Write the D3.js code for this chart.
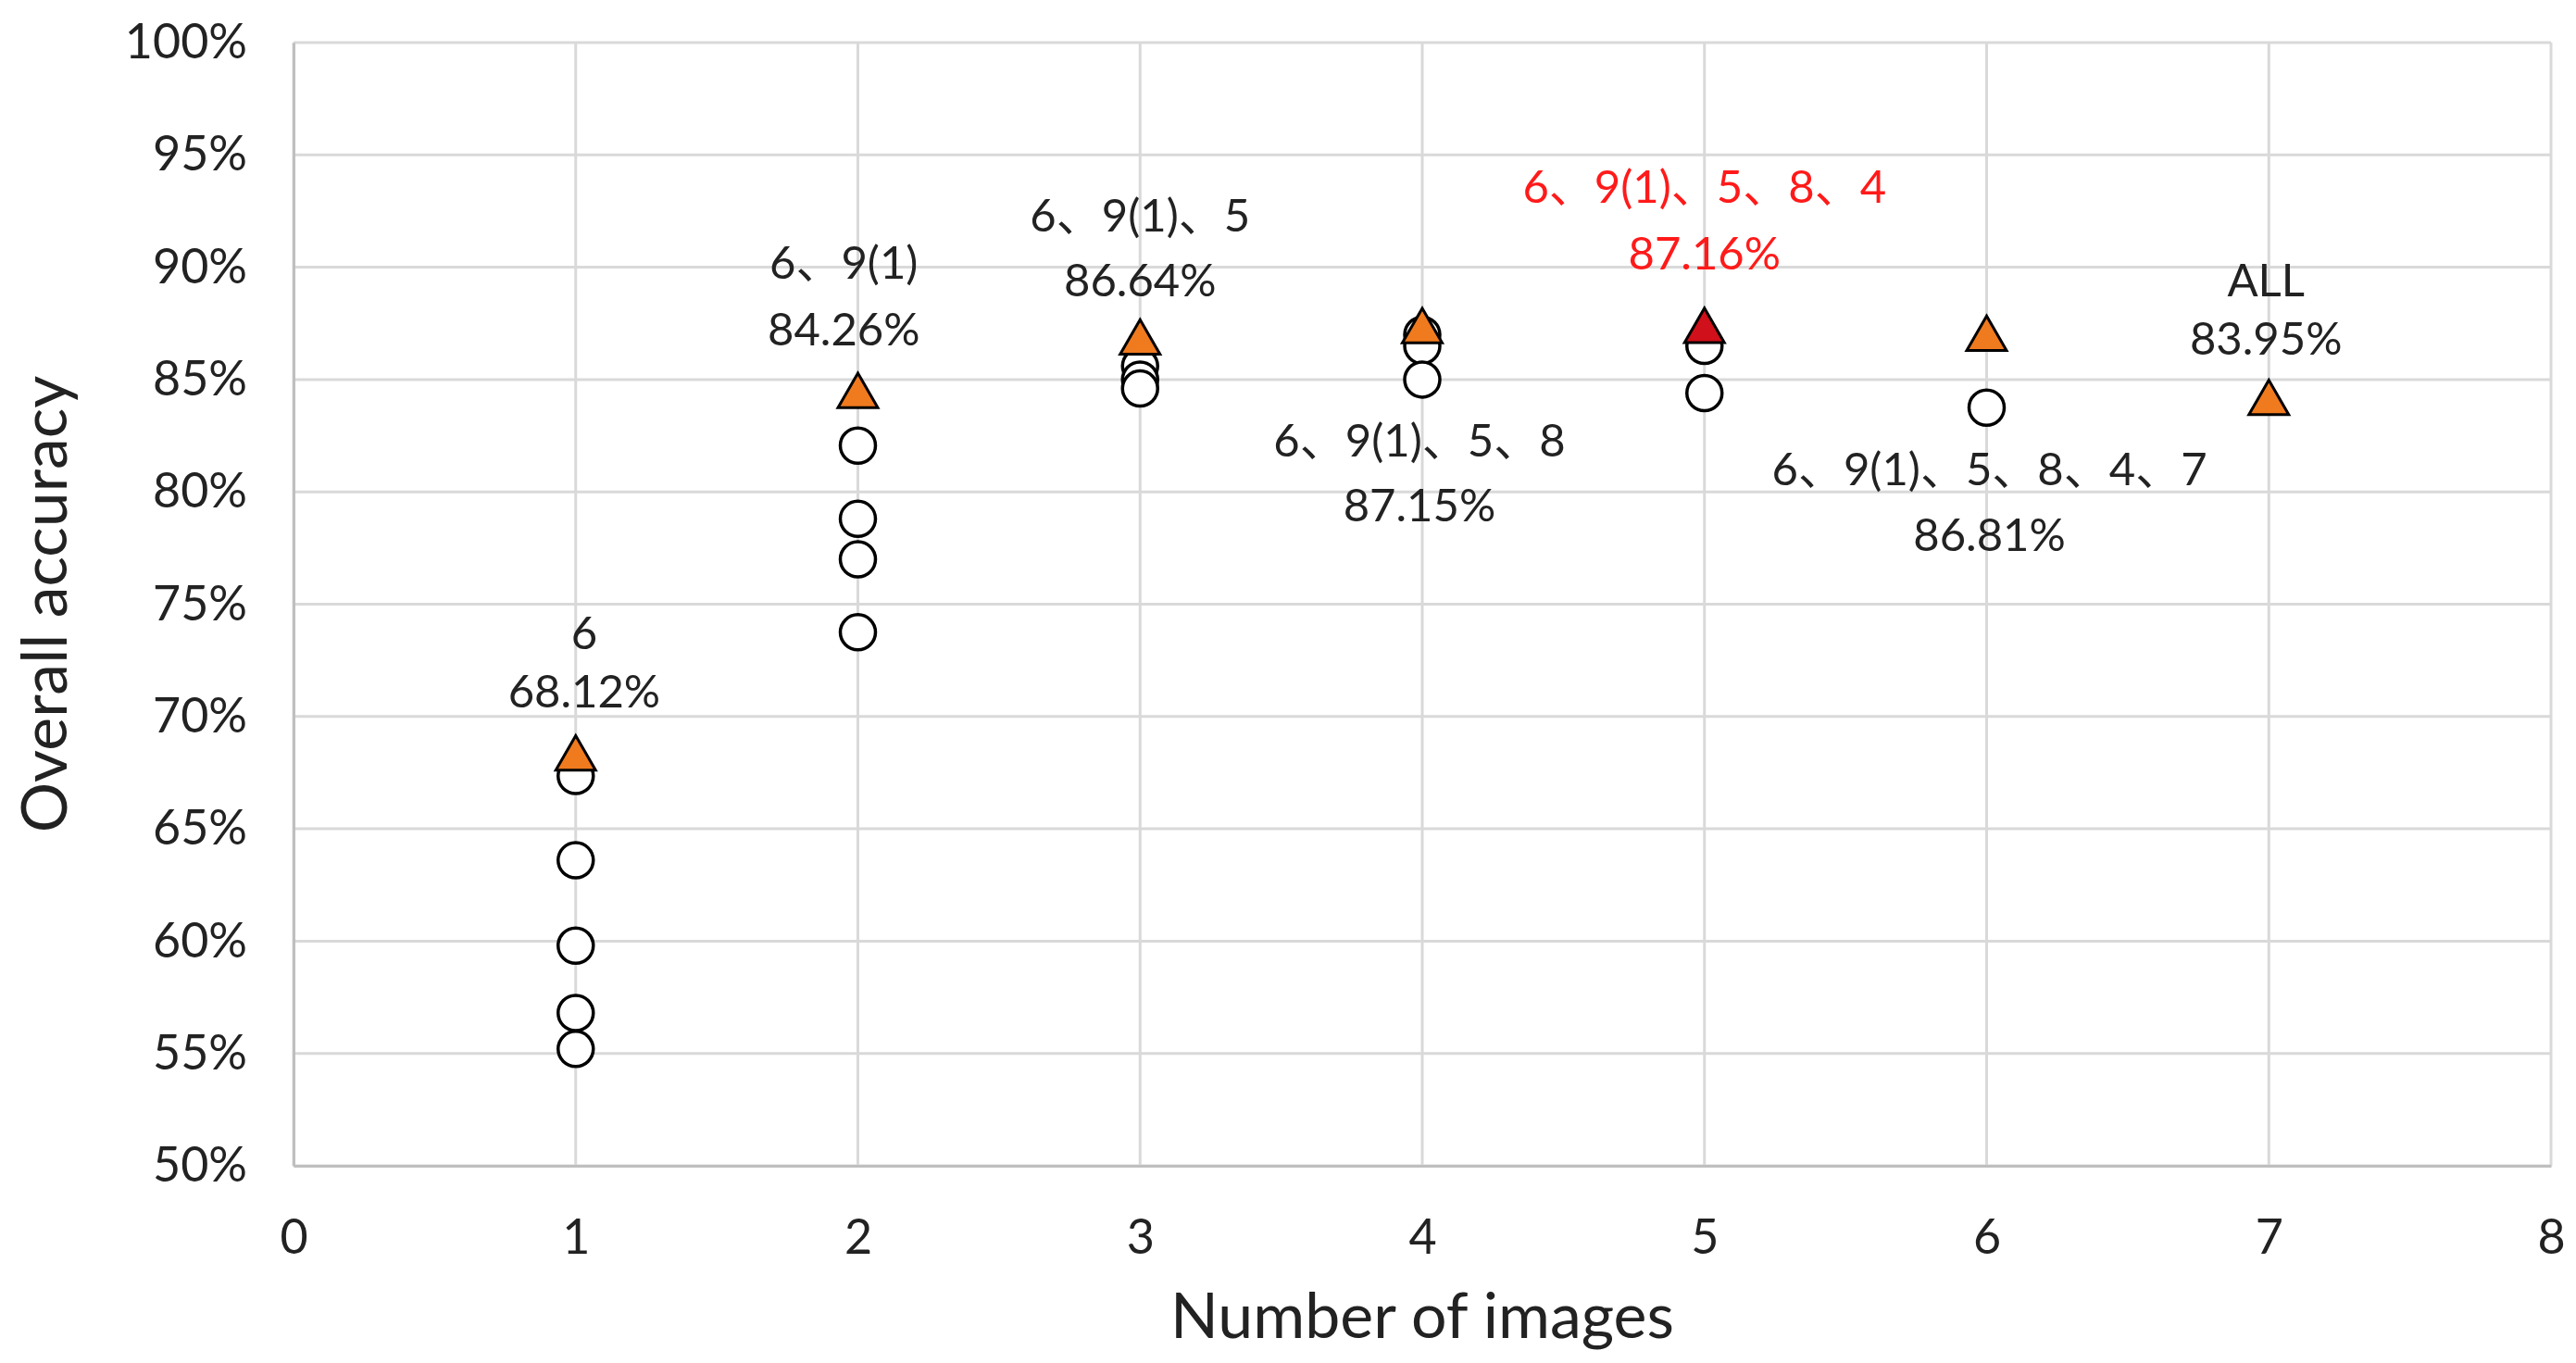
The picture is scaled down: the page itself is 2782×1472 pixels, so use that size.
<!DOCTYPE html>
<html>
<head>
<meta charset="utf-8">
<script src="https://cdn.jsdelivr.net/npm/d3@7"></script>
<style>
  body { margin: 0; background: #fff; }
  text { font-family: Lato, "Noto Sans", "Noto Sans CJK SC", sans-serif; fill: #222; }
</style>
</head>
<body>
<div id="chart"></div>
<script>
// best subset per image count (triangles)
var bestX = [1, 2, 3, 4, 5, 6, 7];
var bestY = [68.12, 84.26, 86.64, 87.15, 87.16, 86.81, 83.95];
var bestIndex = 4; // highlighted in red

// other combinations (circles)
var otherX = [1, 1, 1, 1, 1, 2, 2, 2, 2, 3, 3, 3, 4, 4, 4, 5, 5, 6];
var otherY = [67.35, 63.6, 59.8, 56.8, 55.2, 82.06, 78.8, 77.0, 73.75, 85.6, 85.0, 84.6, 87.0, 86.5, 85.0, 86.5, 84.4, 83.75];

// annotations: combination name and accuracy, placed in data units
var labelNames = ["6", "6、9(1)", "6、9(1)、5", "6、9(1)、5、8", "6、9(1)、5、8、4", "6、9(1)、5、8、4、7", "ALL"];
var labelValues = ["68.12%", "84.26%", "86.64%", "87.15%", "87.16%", "86.81%", "83.95%"];
var labelX = [1.03, 1.95, 3.0, 3.99, 5.0, 6.01, 6.99];
var nameY = [73.5, 90.0, 92.1, 82.1, 93.4, 80.8, 89.2];
var valueY = [70.9, 87.05, 89.2, 79.2, 90.4, 77.9, 86.6];

var xTicks = [0, 1, 2, 3, 4, 5, 6, 7, 8];
var yTicks = [50, 55, 60, 65, 70, 75, 80, 85, 90, 95, 100];

var svgWidth = 2782, svgHeight = 1472;
var margin = { left: 317, right: 27, top: 46, bottom: 213 };
var width = svgWidth - margin.left - margin.right,
  height = svgHeight - margin.top - margin.bottom;

var gridColor = "#d9d9d9",
  orange = "#f07a1e",
  red = "#d0101a";

var svg = d3.select("#chart").append("svg")
  .attr("width", svgWidth)
  .attr("height", svgHeight);

var g = svg.append("g")
  .attr("transform", "translate(" + margin.left + "," + margin.top + ")");

var x = d3.scaleLinear().domain([0, 8]).range([0, width]);
var y = d3.scaleLinear().domain([50, 100]).range([height, 0]);

// grid
g.selectAll(".vgrid").data(xTicks).enter().append("line")
  .attr("x1", d => x(d)).attr("x2", d => x(d))
  .attr("y1", 0).attr("y2", height)
  .style("stroke", gridColor).style("stroke-width", 3);
g.selectAll(".hgrid").data(yTicks).enter().append("line")
  .attr("x1", 0).attr("x2", width)
  .attr("y1", d => y(d)).attr("y2", d => y(d))
  .style("stroke", gridColor).style("stroke-width", 3);

// axes
var xAxis = g.append("g")
  .attr("transform", "translate(0," + height + ")")
  .call(d3.axisBottom(x).tickValues(xTicks).tickSize(0).tickPadding(58));
var yAxis = g.append("g")
  .call(d3.axisLeft(y).tickValues(yTicks).tickSize(0).tickPadding(50)
    .tickFormat(d => d + "%"));
[xAxis, yAxis].forEach(function(a) {
  a.select(".domain").style("stroke", "#bfbfbf").style("stroke-width", 3);
  a.selectAll("text").style("font-size", "52px").style("fill", "#222")
    .style("font-family", "Lato, 'Noto Sans', sans-serif");
});

// axis titles
svg.append("text")
  .attr("x", margin.left + width / 2)
  .attr("y", 1445)
  .attr("text-anchor", "middle")
  .style("font-size", "68px")
  .text("Number of images");
svg.append("text")
  .attr("transform", "translate(72," + (margin.top + height / 2) + ") rotate(-90)")
  .attr("text-anchor", "middle")
  .style("font-size", "68px")
  .text("Overall accuracy");

// circles
g.selectAll(".other").data(otherX).enter().append("circle")
  .attr("cx", d => x(d))
  .attr("cy", (d, i) => y(otherY[i]))
  .attr("r", 19)
  .style("fill", "white")
  .style("stroke", "black")
  .style("stroke-width", 3.5);

// triangles
var tri = d3.symbol().type(d3.symbolTriangle).size(800);
g.selectAll(".best").data(bestX).enter().append("path")
  .attr("d", tri)
  .attr("transform", (d, i) => "translate(" + x(d) + "," + y(bestY[i]) + ")")
  .style("fill", (d, i) => i === bestIndex ? red : orange)
  .style("stroke", "black")
  .style("stroke-width", 3);

// labels
labelNames.forEach(function(name, i) {
  var color = i === bestIndex ? "#ff1a1a" : "#222";
  g.append("text")
    .attr("x", x(labelX[i])).attr("y", y(nameY[i]))
    .attr("text-anchor", "middle").attr("dominant-baseline", "middle")
    .style("font-size", "49px").style("fill", color)
    .text(name);
  g.append("text")
    .attr("x", x(labelX[i])).attr("y", y(valueY[i]))
    .attr("text-anchor", "middle").attr("dominant-baseline", "middle")
    .style("font-size", "49px").style("fill", color)
    .text(labelValues[i]);
});
</script>
</body>
</html>
